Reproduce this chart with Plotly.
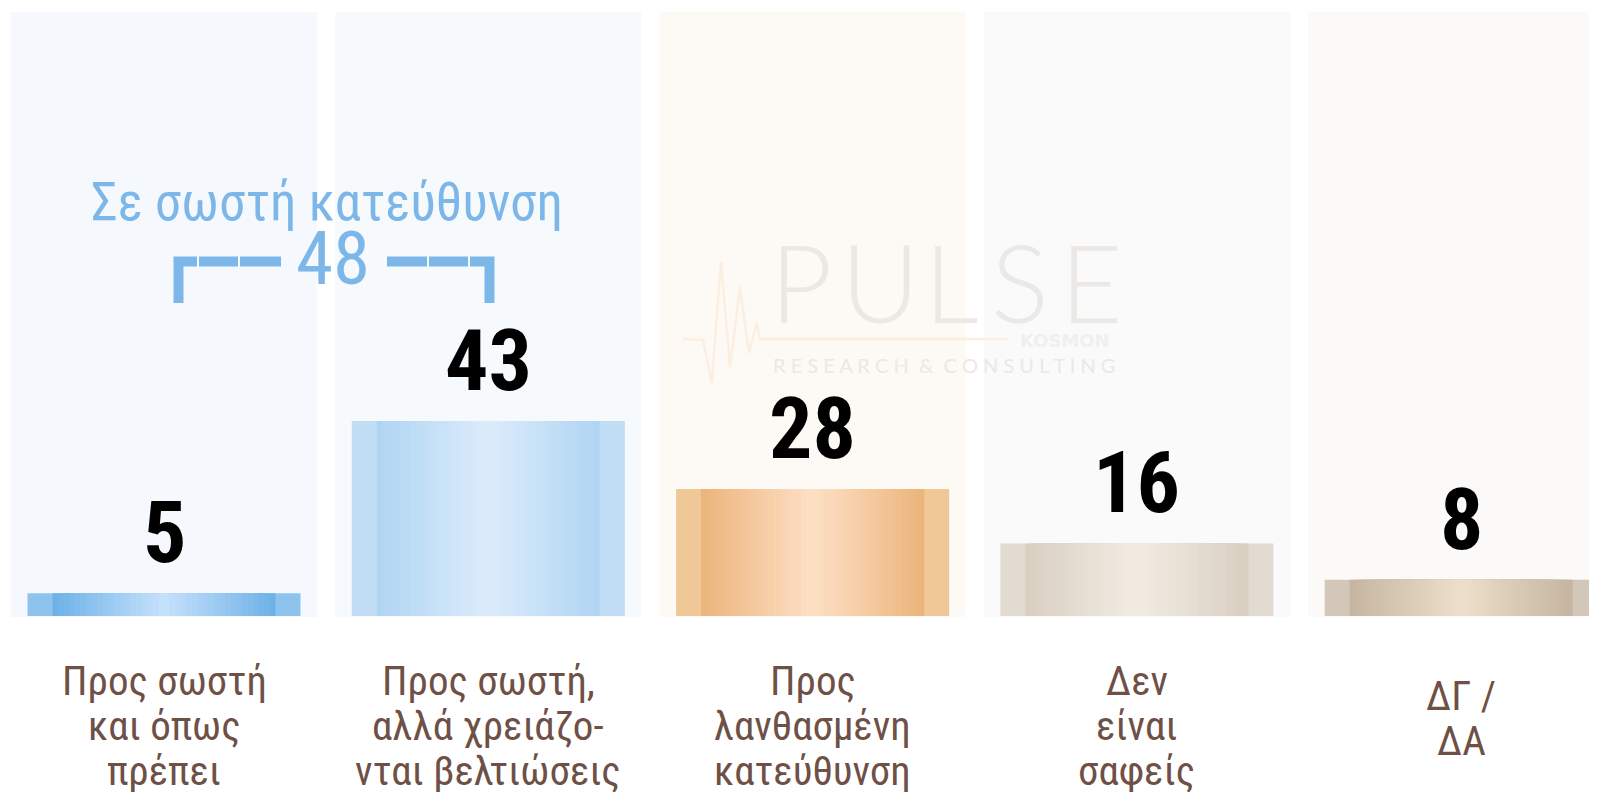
import plotly.graph_objects as go

# ---------------- data ----------------
categories = [
    "Προς σωστή<br>και όπως<br>πρέπει",
    "Προς σωστή,<br>αλλά χρειάζο-<br>νται βελτιώσεις",
    "Προς<br>λανθασμένη<br>κατεύθυνση",
    "Δεν<br>είναι<br>σαφείς",
    "ΔΓ /<br>ΔΑ",
]
values = [5, 43, 28, 16, 8]
group_label = "Σε σωστή κατεύθυνση"
group_members = [0, 1]

# ---------------- styles ----------------
bar_edge = ["#8ec3ee", "#c0ddf5", "#f0c898", "#e2dbd2", "#d2c7b9"]
bar_dark = ["#6db1e8", "#afd4f3", "#ecb47a", "#d8cfc1", "#c5b5a0"]
bar_light = ["#c6e1fb", "#dcecfc", "#fde0c6", "#f2ece2", "#eddfcb"]
panel_colors = ["#f5f9fd", "#f6fafd", "#fdf9f4", "#fafafa", "#fbfaf9"]

NARROW = "Liberation Sans Narrow, Roboto Condensed, Arial Narrow, sans-serif"
LABEL_COLOR = "#6e5046"
BLUE_TXT = "#7db7e9"

W, H = 1597, 792
OFF = 8  # page offset of the figure inside the browser window


def px(x):
    return (x - OFF) / W


def py(y):
    return 1 - (y - OFF) / H


def hex2rgb(h):
    h = h.lstrip("#")
    return [int(h[i:i + 2], 16) for i in (0, 2, 4)]


def lerp(c1, c2, t):
    a, b = hex2rgb(c1), hex2rgb(c2)
    r = [round(a[i] + (b[i] - a[i]) * t) for i in range(3)]
    return "rgb(%d,%d,%d)" % tuple(r)


xs = list(range(len(values)))

fig = go.Figure()

BAR_W = 0.842
INNER_W = 0.688
N_LAYERS = 20

fig.add_trace(go.Bar(x=xs, y=values, width=BAR_W,
                     marker=dict(color=bar_edge, line=dict(width=0)),
                     hoverinfo="skip"))
for k in range(N_LAYERS):
    t = (k + 0.5) / N_LAYERS
    w = INNER_W * (1 - k / N_LAYERS)
    cols = [lerp(d, l, t) for d, l in zip(bar_dark, bar_light)]
    fig.add_trace(go.Bar(x=xs, y=values, width=w,
                         marker=dict(color=cols, line=dict(width=0)),
                         hoverinfo="skip"))

# background panels
for i, c in enumerate(panel_colors):
    fig.add_shape(type="rect", xref="x", yref="paper",
                  x0=i - 0.4718, x1=i + 0.4718, y0=py(617), y1=py(12),
                  fillcolor=c, line_width=0, layer="below")

# value labels
NUM_SIZE = 86
for i, v in zip(xs, values):
    fig.add_annotation(x=i, y=v, text=str(v), showarrow=False,
                       xanchor="center", yanchor="bottom", yshift=8.2,
                       font=dict(family=NARROW, size=NUM_SIZE, color="#000000",
                                 weight="bold"))

# category labels (each line placed separately for tight leading)
LBL_SIZE = 41
for i, cat in zip(xs, categories):
    lines = cat.split("<br>")
    n = len(lines)
    for k, line in enumerate(lines):
        baseline = 698 + (3 - n) * 15 + k * 45
        fig.add_annotation(x=i, xref="x", y=py(baseline - 0.42 * LBL_SIZE),
                           yref="paper", xanchor="center", yanchor="middle",
                           text=line, showarrow=False,
                           font=dict(family=NARROW, size=LBL_SIZE,
                                     color=LABEL_COLOR))

# group bracket
group_total = sum(values[i] for i in group_members)
GL_SIZE = 53
fig.add_annotation(x=px(327), xref="paper", y=py(224 - 0.42 * GL_SIZE),
                   yref="paper", xanchor="center", yanchor="middle",
                   text=group_label, showarrow=False,
                   font=dict(family=NARROW, size=GL_SIZE, color=BLUE_TXT))
GT_SIZE = 75
fig.add_annotation(x=px(333), xref="paper", y=py(288 - 0.40 * GT_SIZE),
                   yref="paper", xanchor="center", yanchor="middle",
                   text=str(group_total), showarrow=False,
                   font=dict(family=NARROW, size=GT_SIZE, color=BLUE_TXT))

BR_W = 10
by = 261.5
segs = [
    [(178.5, 303), (178.5, by), (197, by)],
    [(199, by), (238, by)],
    [(240, by), (281, by)],
    [(387, by), (427, by)],
    [(429, by), (468, by)],
    [(470, by), (489.5, by), (489.5, 303)],
]
for s in segs:
    path = "M " + " L ".join("%f,%f" % (px(a), py(b)) for a, b in s)
    fig.add_shape(type="path", xref="paper", yref="paper", path=path,
                  line=dict(color=BLUE_TXT, width=BR_W), layer="above")

# watermark
pulse_pts = [(683, 339), (703, 340), (711.7, 383), (721, 262), (730, 367),
             (740, 287), (749, 353), (756.7, 323), (760, 339), (1008, 339)]
fig.add_shape(type="path", xref="paper", yref="paper",
              path="M " + " L ".join("%f,%f" % (px(a), py(b)) for a, b in pulse_pts),
              line=dict(color="#fcefe1", width=2.5), layer="above")
logo_letters = ["P", "U", "L", "S", "E"]
logo_x = [801, 880, 951.5, 1020, 1091]
LOGO_SIZE = 108
for ch, lx in zip(logo_letters, logo_x):
    fig.add_annotation(x=px(lx), xref="paper", y=py(320 - 0.36 * LOGO_SIZE),
                       yref="paper", xanchor="center", yanchor="middle",
                       text=ch, showarrow=False,
                       font=dict(family="Lato, sans-serif", size=LOGO_SIZE,
                                 color="#ebe8e6", weight=300))
fig.add_annotation(x=px(943.5), xref="paper", y=py(373 - 0.40 * 20),
                   yref="paper", xanchor="center", yanchor="middle",
                   text="R E S E A R C H  &  C O N S U L T I N G",
                   showarrow=False,
                   font=dict(family="Lato, sans-serif", size=20,
                             color="#ebe8e6"))
fig.add_annotation(x=px(1064.5), xref="paper", y=py(347 - 0.38 * 18),
                   yref="paper", xanchor="center", yanchor="middle",
                   text="KOSMON", showarrow=False,
                   font=dict(family="DejaVu Sans, sans-serif", size=18,
                             color="#f1efee", weight="bold"))

# axis ranges: x=0 centre at page px 164, pitch 324.3 px; y=0 at page px 616, 4.535 px/unit
X0_PX, PITCH = 164 - OFF, 324.3
Y0_PX, PPU = 616 - OFF, 4.535
fig.update_layout(
    width=W, height=H,
    margin=dict(l=0, r=0, t=0, b=0),
    paper_bgcolor="white", plot_bgcolor="white",
    barmode="overlay", showlegend=False,
    xaxis=dict(range=[-X0_PX / PITCH, (W - X0_PX) / PITCH], visible=False,
               fixedrange=True),
    yaxis=dict(range=[-(H - Y0_PX) / PPU, Y0_PX / PPU], visible=False,
               fixedrange=True),
)

fig.write_html("out.html")
